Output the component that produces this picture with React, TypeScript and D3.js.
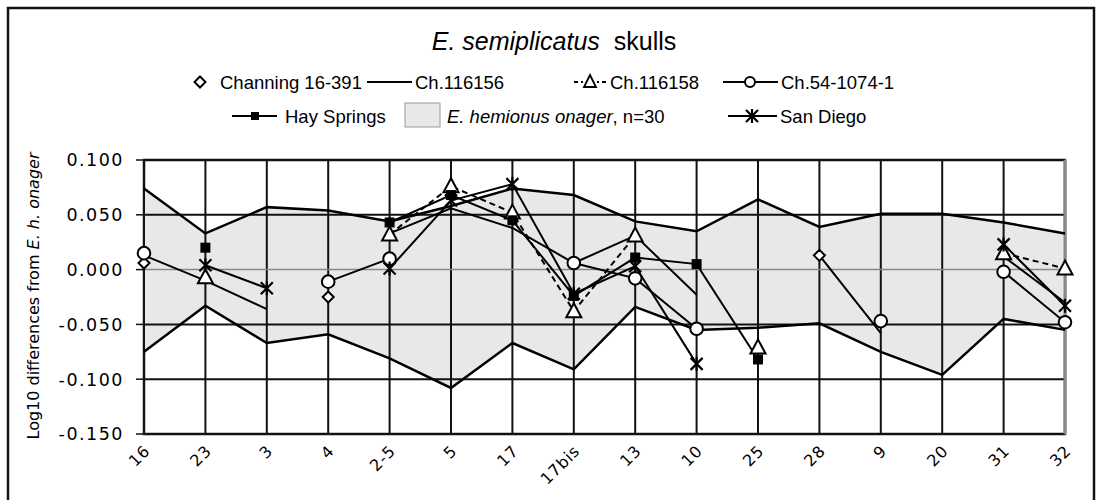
import * as d3 from 'd3';
import * as React from 'react';

// landmark codes along the skull, left to right
const categories = ['16', '23', '3', '4', '2-5', '5', '17', '17bis', '13', '10', '25', '28', '9', '20', '31', '32'];

// E. hemionus onager range (n=30)
const onagerUpper = [0.074, 0.033, 0.057, 0.054, 0.044, 0.058, 0.074, 0.068, 0.044, 0.035, 0.064, 0.039, 0.051, 0.051, 0.043, 0.033];
const onagerLower = [-0.075, -0.033, -0.067, -0.059, -0.081, -0.108, -0.067, -0.091, -0.034, -0.055, -0.053, -0.049, -0.075, -0.096, -0.045, -0.055];

const channing = [0.006, null, null, -0.025, null, null, null, null, null, null, null, 0.013, null, null, null, null];
const ch116156 = [0.013, -0.010, -0.036, null, 0.033, 0.056, 0.038, 0.006, 0.031, -0.023, null, 0.013, -0.058, null, 0.012, -0.030];
const ch116158 = [null, -0.007, null, null, 0.032, 0.076, 0.052, -0.038, 0.031, null, -0.071, null, null, null, 0.015, 0.001];
const ch541074 = [0.015, null, null, -0.011, 0.010, null, null, 0.006, -0.008, -0.054, null, null, -0.047, null, -0.002, -0.048];
const haySprings = [null, 0.020, null, null, 0.043, 0.068, 0.045, -0.024, 0.011, 0.005, -0.082, null, null, null, null, null];
const sanDiego = [null, 0.004, -0.017, null, 0.001, 0.063, 0.078, -0.022, 0.003, -0.086, null, null, null, null, 0.023, -0.033];

const yTicks = [0.1, 0.05, 0, -0.05, -0.1, -0.15];

type Marker = 'diamond' | 'none' | 'triangle' | 'circle' | 'square' | 'star';

interface ISeries {
  name: string;
  values: (number | null)[];
  marker: Marker;
  line: boolean;
  dashed?: boolean;
}

const series: ISeries[] = [
  { name: 'Channing 16-391', values: channing, marker: 'diamond', line: false },
  { name: 'Ch.116156', values: ch116156, marker: 'none', line: true },
  { name: 'Ch.116158', values: ch116158, marker: 'triangle', line: true, dashed: true },
  { name: 'Ch.54-1074-1', values: ch541074, marker: 'circle', line: true },
  { name: 'Hay Springs', values: haySprings, marker: 'square', line: true },
  { name: 'San Diego', values: sanDiego, marker: 'star', line: true },
];

const TICK_FONT = '"DejaVu Sans", Verdana, sans-serif';
const TEXT_FONT = '"Liberation Sans", Arial, Helvetica, sans-serif';
const FILL = '#e8e8e8';

// plain hyphen for negatives, like the original spreadsheet
const fmt = d3.formatLocale({ decimal: '.', thousands: ',', grouping: [3], currency: ['', ''], minus: '-' }).format('.3f');

function renderMarker(kind: Marker, x: number, y: number, key: string): JSX.Element | null {
  switch (kind) {
    case 'diamond':
      return <path key={key} d={`M${x},${y - 5.5}L${x + 5.5},${y}L${x},${y + 5.5}L${x - 5.5},${y}Z`} fill='#fff' stroke='#000' strokeWidth={2} />;
    case 'triangle':
      return <path key={key} d={`M${x},${y - 8}L${x + 7.5},${y + 6}L${x - 7.5},${y + 6}Z`} fill='#fff' stroke='#000' strokeWidth={2} />;
    case 'circle':
      return <circle key={key} cx={x} cy={y} r={6.3} fill='#fff' stroke='#000' strokeWidth={2} />;
    case 'square':
      return <rect key={key} x={x - 5} y={y - 5} width={10} height={10} fill='#000' />;
    case 'star':
      return (
        <path
          key={key}
          d={`M${x - 6},${y - 6}L${x + 6},${y + 6}M${x + 6},${y - 6}L${x - 6},${y + 6}M${x},${y - 7}L${x},${y + 7}`}
          stroke='#000'
          strokeWidth={2.2}
          fill='none'
        />
      );
    default:
      return null;
  }
}

class App extends React.Component<{}, {}> {
  private x = d3.scalePoint<string>().domain(categories).range([144, 1065]);
  private y = d3.scaleLinear().domain([-0.15, 0.1]).range([434, 160]);

  public render(): JSX.Element {
    const { x, y } = this;
    const left = 144;
    const right = 1065;

    const area = d3.area<number>()
      .x((d, i) => x(categories[i]))
      .y0((d, i) => y(onagerLower[i]))
      .y1((d) => y(d));

    const line = d3.line<number | null>()
      .defined((d) => d !== null)
      .x((d, i) => x(categories[i]))
      .y((d) => y(d as number));

    return (
      <svg width={1102} height={500} style={{ position: 'absolute', left: 0, top: 0, background: '#fff' }}>
        {/* outer frame */}
        <rect x={8} y={8} width={1086} height={520} fill='none' stroke='#111' strokeWidth={2.5} />

        {/* title */}
        <text x={554} y={50} textAnchor='middle' fontFamily={TEXT_FONT} fontSize={25}>
          <tspan fontStyle='italic'>E. semiplicatus</tspan>
          <tspan xmlSpace='preserve'>{'  skulls'}</tspan>
        </text>

        {this.renderLegend()}

        {/* plot frame */}
        <rect x={left} y={y(0.1)} width={right - left} height={y(-0.15) - y(0.1)} fill='#fff' stroke='#888' strokeWidth={3} />
        <path d={area(onagerUpper) as string} fill={FILL} />

        {/* grid */}
        {categories.map((c) => (
          <line key={`v${c}`} x1={x(c)} x2={x(c)} y1={y(0.1)} y2={y(-0.15)} stroke='#111' strokeWidth={2} />
        ))}
        {yTicks.map((t) => (
          <g key={`h${t}`}>
            <line x1={left} x2={right} y1={y(t)} y2={y(t)} stroke={t === 0 ? '#888' : '#111'} strokeWidth={t === 0 ? 1.5 : 2} />
            <line x1={left - 8} x2={left} y1={y(t)} y2={y(t)} stroke='#111' strokeWidth={1.5} />
            <text
              x={124}
              y={y(t)}
              dy='0.36em'
              textAnchor='end'
              fontFamily={TICK_FONT}
              fontSize={17.5}
              letterSpacing={1.5}
            >
              {fmt(t)}
            </text>
          </g>
        ))}
        <line x1={right} x2={right} y1={y(0.1)} y2={y(-0.15)} stroke='#888' strokeWidth={3} />
        <line x1={left} x2={left} y1={y(0.1)} y2={y(-0.15)} stroke='#111' strokeWidth={2} />

        {/* onager envelope */}
        <path d={line(onagerUpper) as string} fill='none' stroke='#000' strokeWidth={2.5} />
        <path d={line(onagerLower) as string} fill='none' stroke='#000' strokeWidth={2.5} />

        {/* series */}
        {series.filter((s) => s.line).map((s) => (
          <path
            key={`l${s.name}`}
            d={line(s.values) as string}
            fill='none'
            stroke='#000'
            strokeWidth={2}
            strokeDasharray={s.dashed ? '6,4' : undefined}
          />
        ))}
        {series.map((s) => s.values.map((v, i) => (v === null ? null : renderMarker(s.marker, x(categories[i]) as number, y(v), `${s.name}${i}`))))}

        {/* x labels */}
        {categories.map((c) => (
          <text
            key={`xl${c}`}
            transform={`translate(${(x(c) as number) + 7},452) rotate(-45)`}
            textAnchor='end'
            fontFamily={TICK_FONT}
            fontSize={16}
            letterSpacing={0.8}
          >
            {c}
          </text>
        ))}

        {/* y label */}
        <text transform='translate(39,296) rotate(-90)' textAnchor='middle' fontFamily={TICK_FONT} fontSize={16}>
          Log10 differences from <tspan fontStyle='italic'>E. h. onager</tspan>
        </text>
      </svg>
    );
  }

  private renderLegend(): JSX.Element {
    const r1 = 82;
    const r2 = 116;
    const txt = { fontFamily: TEXT_FONT, fontSize: 18.5 };
    return (
      <g>
        {renderMarker('diamond', 200, r1, 'lg0')}
        <text x={220} y={r1 + 6.5} {...txt}>Channing 16-391</text>

        <line x1={367} x2={412} y1={r1} y2={r1} stroke='#000' strokeWidth={2} />
        <text x={415} y={r1 + 6.5} {...txt}>Ch.116156</text>

        <line x1={574} x2={607} y1={r1} y2={r1} stroke='#000' strokeWidth={2} strokeDasharray='4,3' />
        <rect x={583} y={r1 - 8} width={14} height={15} fill='#fff' />
        <path d={`M590,${r1 - 7}L596,${r1 + 5}L584,${r1 + 5}Z`} fill='#fff' stroke='#000' strokeWidth={1.8} />
        <text x={610} y={r1 + 6.5} {...txt}>Ch.116158</text>

        <line x1={723} x2={778} y1={r1} y2={r1} stroke='#000' strokeWidth={2} />
        <circle cx={750} cy={r1} r={5} fill='#fff' stroke='#000' strokeWidth={2} />
        <text x={781} y={r1 + 6.5} {...txt}>Ch.54-1074-1</text>

        <line x1={232} x2={277} y1={r2} y2={r2} stroke='#000' strokeWidth={2} />
        <rect x={251} y={r2 - 4} width={8} height={8} fill='#000' />
        <text x={285} y={r2 + 6.5} {...txt}>Hay Springs</text>

        <rect x={405} y={r2 - 13} width={35} height={24} fill={FILL} stroke='#999' strokeWidth={1} />
        <text x={447} y={r2 + 6.5} {...txt}>
          <tspan fontStyle='italic'>E. hemionus onager</tspan>, n=30
        </text>

        <line x1={728} x2={777} y1={r2} y2={r2} stroke='#000' strokeWidth={2} />
        {renderMarker('star', 752, r2, 'lg5')}
        <text x={780} y={r2 + 6.5} {...txt}>San Diego</text>
      </g>
    );
  }
}

export default App;
